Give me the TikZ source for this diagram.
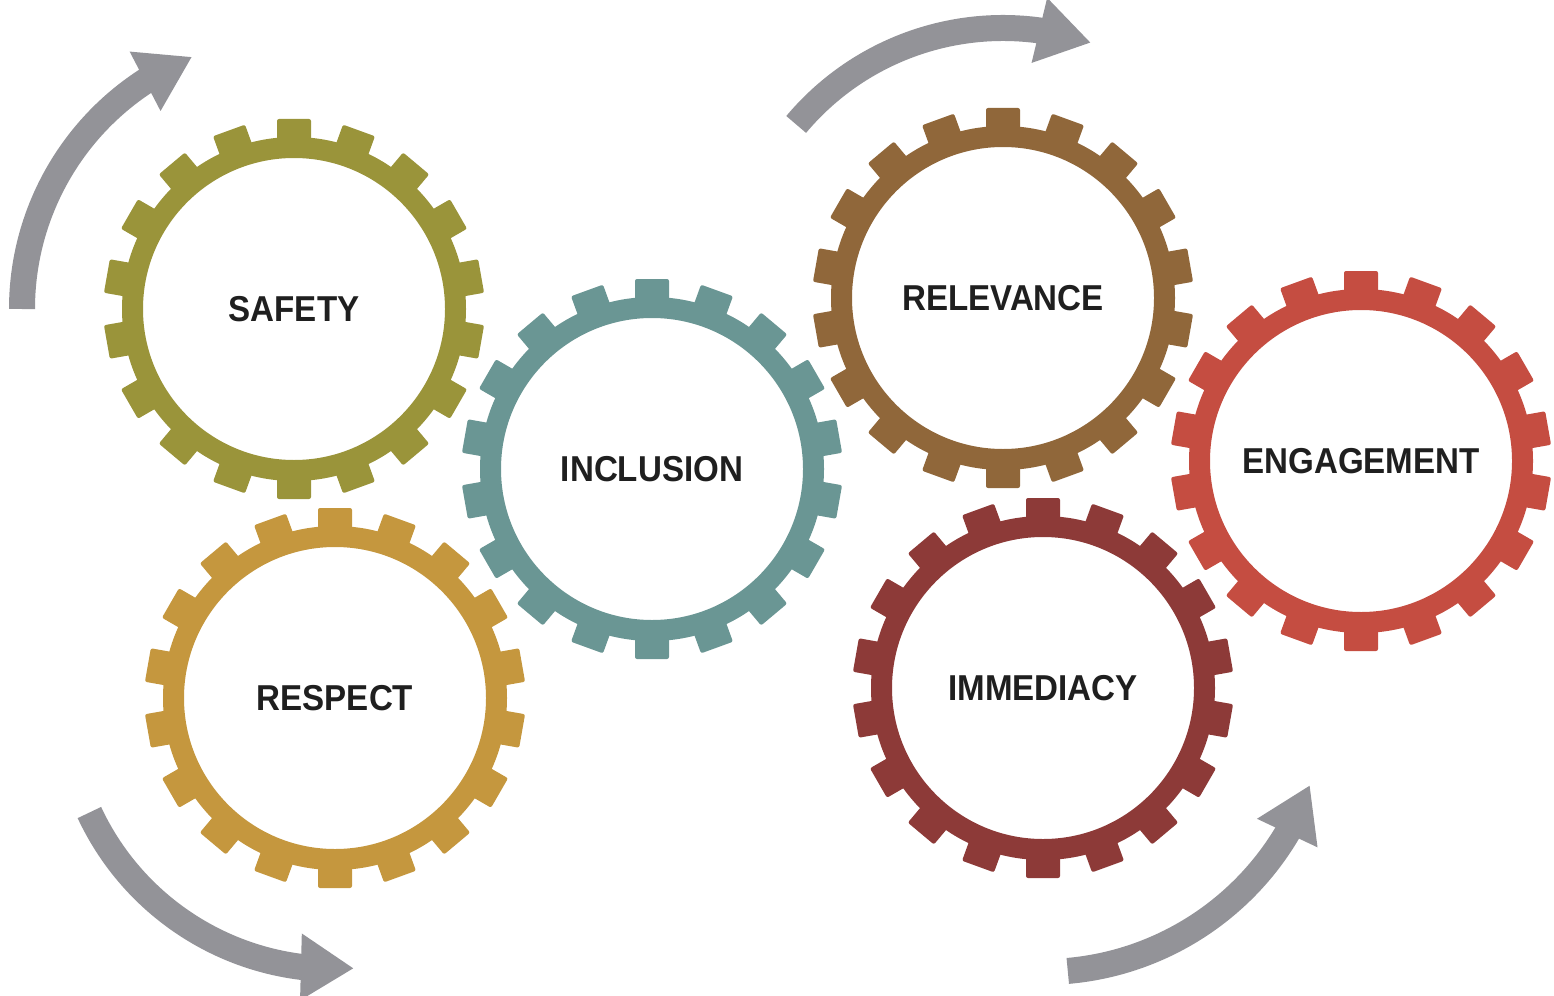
\documentclass[tikz,border=0pt]{standalone}
\usepackage{fontspec}
\usepackage{xcolor}
\usepackage{tikz}
\usetikzlibrary{arrows.meta, bending}
\newfontfamily\gearfont{Liberation Sans}[FakeStretch=0.92]
\definecolor{safetycol}{HTML}{9A943A}
\definecolor{inclcol}{HTML}{6A9694}
\definecolor{relcol}{HTML}{90673A}
\definecolor{engcol}{HTML}{C54D41}
\definecolor{respcol}{HTML}{C5973E}
\definecolor{immcol}{HTML}{8D3A38}
\definecolor{cyclegray}{HTML}{939398}
% ring with 18 teeth, centred on a node
\newcommand{\gearring}[2]{%
  \fill[#2, even odd rule] (#1) circle[radius=172] circle[radius=151];
  \foreach \a in {0,20,...,340}
    \fill[#2, shift={(#1)}, rotate=\a, rounded corners=2pt]
      (-17,166) rectangle (17,190);
}

\begin{document}
\begin{tikzpicture}[
  x=1pt, y=-1pt,
  gearlabel/.style={font=\gearfont\bfseries\fontsize{36}{40}\selectfont,
    text=black!88, inner sep=0pt},
  cycle/.style={line width=26pt, cyclegray,
    -{Triangle[length=53pt, width=63pt, flex]}},
]
  \useasboundingbox (0,0) rectangle (1554,995);

  % Labels — gear centres
  \node[gearlabel] (safety)     at (294,309)  {SAFETY};
  \node[gearlabel] (respect)    at (335,698)  {RESPECT};
  \node[gearlabel] (inclusion)  at (652,469)  {INCLUSION};
  \node[gearlabel] (relevance)  at (1003,298) {RELEVANCE};
  \node[gearlabel] (immediacy)  at (1043,688) {IMMEDIACY};
  \node[gearlabel] (engagement) at (1361,461) {ENGAGEMENT};

  % Gears
  \gearring{safety.center}{safetycol}
  \gearring{respect.center}{respcol}
  \gearring{inclusion.center}{inclcol}
  \gearring{relevance.center}{relcol}
  \gearring{immediacy.center}{immcol}
  \gearring{engagement.center}{engcol}

  % Turning arrows round the outer gears
  \draw[cycle] (safety.center) ++(180:272)
    arc[start angle=180, end angle=248, radius=272];
  \draw[cycle] (relevance.center) ++(220:270)
    arc[start angle=220, end angle=289, radius=270];
  \draw[cycle] (respect.center) ++(155:271)
    arc[start angle=155, end angle=86, radius=271];
  \draw[cycle] (immediacy.center) ++(85:284)
    arc[start angle=85, end angle=20, radius=284];

\end{tikzpicture}
\end{document}
